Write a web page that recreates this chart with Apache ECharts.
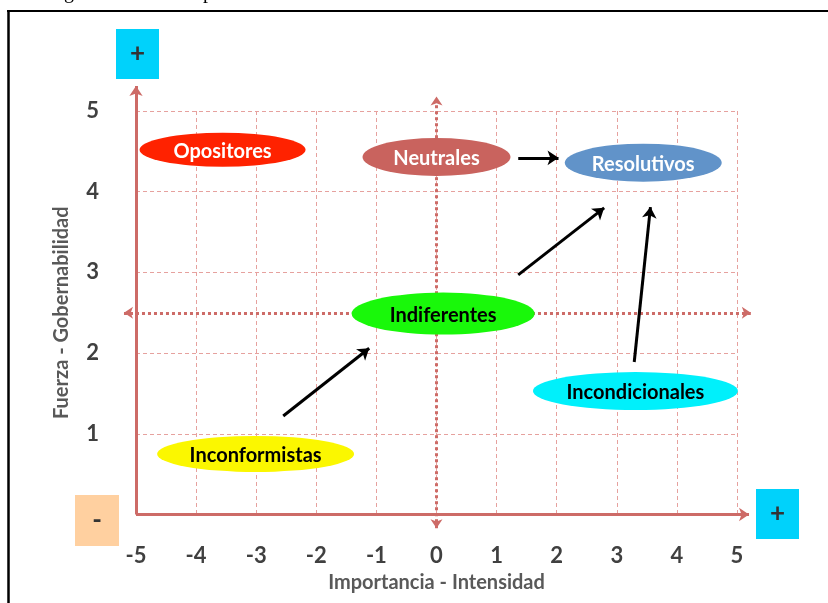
<!DOCTYPE html>
<html>
<head>
<meta charset="utf-8">
<script src="https://cdn.jsdelivr.net/npm/echarts@6/dist/echarts.min.js"></script>
<style>
  html, body { margin: 0; padding: 0; background: #fff; }
  #chart { width: 828px; height: 603px; }
</style>
</head>
<body>
<div id="chart"></div>
<script>
// actor groups (x = importancia, y = fuerza)
var groups = ['Opositores', 'Neutrales', 'Resolutivos', 'Indiferentes', 'Incondicionales', 'Inconformistas'];
var groupX = [-3.56, 0.0, 3.44, 0.11, 3.31, -3.01];
var groupY = [4.52, 4.43, 4.36, 2.49, 1.53, 0.75];

// arrows between groups: [x0, y0, x1, y1]
var moves = [
    [1.36, 4.42, 2.03, 4.42],
    [1.36, 2.97, 2.79, 3.80],
    [3.29, 1.89, 3.56, 3.81],
    [-2.55, 1.22, -1.12, 2.06]
];

var xTicks = [-5, -4, -3, -2, -1, 0, 1, 2, 3, 4, 5];
var yTicks = [0, 1, 2, 3, 4, 5];

// look of each ellipse
var fillColors = ['#ff2200', '#c9635e', '#6193c9', '#19f80a', '#00f0fb', '#fbf700'];
var textColors = ['#ffffff', '#ffffff', '#ffffff', '#000000', '#000000', '#000000'];
var ellipseSize = [[166, 34], [148, 38], [157, 38], [183, 42], [205, 38], [197, 36]];

var axisRed = '#cd6b67';
var gridRed = '#e6a19e';

var points = [];
for (var i = 0; i < groups.length; i++) {
    points.push({
        name: groups[i],
        value: [groupX[i], groupY[i]],
        symbolSize: ellipseSize[i],
        itemStyle: { color: fillColors[i], opacity: 1 },
        label: { color: textColors[i] }
    });
}

var arrowData = [];
for (var j = 0; j < moves.length; j++) {
    arrowData.push({ coords: [[moves[j][0], moves[j][1]], [moves[j][2], moves[j][3]]] });
}

var myChart = echarts.init(document.getElementById('chart'));

var option = {
    animation: false,
    grid: { left: 136, right: 91, top: 111, bottom: 88.5 },
    xAxis: {
        type: 'value',
        min: xTicks[0],
        max: xTicks[xTicks.length - 1],
        interval: 1,
        name: 'Importancia - Intensidad',
        nameLocation: 'middle',
        nameGap: 58,
        nameTextStyle: { fontFamily: 'Lato', fontWeight: 'bold', fontSize: 20, color: '#595959' },
        axisLine: { show: false },
        axisTick: { show: false },
        axisLabel: { margin: 30, fontFamily: 'Lato', fontWeight: 'bold', fontSize: 22, color: '#404040' },
        splitLine: { lineStyle: { color: gridRed, width: 1, type: [4, 3] } }
    },
    yAxis: {
        type: 'value',
        min: yTicks[0],
        max: yTicks[yTicks.length - 1],
        interval: 1,
        name: 'Fuerza - Gobernabilidad',
        nameLocation: 'middle',
        nameGap: 64,
        nameRotate: 90,
        nameTextStyle: { fontFamily: 'Lato', fontWeight: 'bold', fontSize: 20, color: '#595959' },
        axisLine: { show: false },
        axisTick: { show: false },
        axisLabel: {
            margin: 37, fontFamily: 'Lato', fontWeight: 'bold', fontSize: 22, color: '#404040',
            formatter: function (v) { return v === 0 ? '' : v; }
        },
        splitLine: { lineStyle: { color: gridRed, width: 1, type: [4, 3] } }
    },
    series: [
        {
            // main axes with arrow heads
            type: 'lines',
            coordinateSystem: 'cartesian2d',
            clip: false,
            z: 3,
            symbol: ['none', 'arrow'],
            symbolSize: 10,
            lineStyle: { color: axisRed, width: 3, opacity: 1 },
            data: [
                { coords: [[-5, 0], [5.2, 0]] },
                { coords: [[-5, 0], [-5, 5.31]] }
            ]
        },
        {
            // dotted centre cross
            type: 'lines',
            coordinateSystem: 'cartesian2d',
            clip: false,
            z: 3,
            symbol: ['arrow', 'arrow'],
            symbolSize: 9,
            lineStyle: { color: axisRed, width: 3, type: [3, 3], opacity: 1 },
            data: [
                { coords: [[-5.2, 2.5], [5.23, 2.5]] },
                { coords: [[0, -0.17], [0, 5.18]] }
            ]
        },
        {
            type: 'scatter',
            symbol: 'circle',
            z: 5,
            clip: false,
            label: {
                show: true,
                position: 'inside',
                formatter: '{b}',
                fontFamily: 'Lato',
                fontWeight: 'bold',
                fontSize: 20,
                offset: [0, 2]
            },
            data: points
        },
        {
            type: 'lines',
            coordinateSystem: 'cartesian2d',
            clip: false,
            z: 6,
            symbol: ['none', 'arrow'],
            symbolSize: 11,
            lineStyle: { color: '#000', width: 3, opacity: 1 },
            data: arrowData
        }
    ],
    graphic: [
        { type: 'line', shape: { x1: 8.5, y1: 11, x2: 8.5, y2: 603 }, style: { stroke: '#000', lineWidth: 2.5 } },
        { type: 'line', shape: { x1: 7, y1: 11, x2: 828, y2: 11 }, style: { stroke: '#000', lineWidth: 2 } },
        { type: 'text', x: 64, y: -17, style: { text: 'g', font: '20px "Liberation Serif"', fill: '#000' } },
        { type: 'text', x: 203, y: -17, style: { text: 'p', font: '20px "Liberation Serif"', fill: '#000' } },
        {
            type: 'group', left: 116, top: 29,
            children: [
                { type: 'rect', shape: { width: 43, height: 50 }, style: { fill: '#00d2fb' } },
                { type: 'text', x: 21.5, y: 25, style: { text: '+', font: 'bold 26px Lato', fill: '#333', align: 'center', verticalAlign: 'middle' } }
            ]
        },
        {
            type: 'group', left: 75, top: 495,
            children: [
                { type: 'rect', shape: { width: 44, height: 51 }, style: { fill: '#ffd0a0' } },
                { type: 'text', x: 22, y: 26, style: { text: '-', font: 'bold 26px Lato', fill: '#333', align: 'center', verticalAlign: 'middle' } }
            ]
        },
        {
            type: 'group', left: 756, top: 489,
            children: [
                { type: 'rect', shape: { width: 43, height: 50 }, style: { fill: '#00d2fb' } },
                { type: 'text', x: 21.5, y: 25, style: { text: '+', font: 'bold 26px Lato', fill: '#333', align: 'center', verticalAlign: 'middle' } }
            ]
        }
    ]
};

myChart.setOption(option);
</script>
</body>
</html>
